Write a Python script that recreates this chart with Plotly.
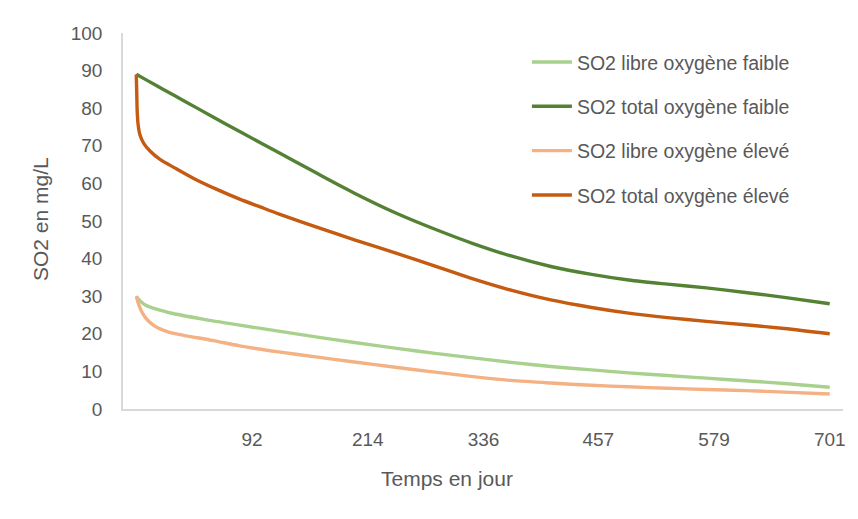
import plotly.graph_objects as go

# ---- data ----
days_total_faible = [-30, -20, 0, 20, 50, 79, 120, 161, 200, 243, 285, 325, 365, 407, 450, 489, 530, 571, 612, 653, 701]
total_faible = [89, 87.6, 84.8, 82.0, 77.8, 73.8, 68.2, 62.6, 57.4, 52.2, 47.8, 44.0, 40.7, 37.9, 35.8, 34.3, 33.2, 32.2, 31.0, 29.7, 28.0]

days_total_eleve = [-30, -29.5, -29, -28, -26, -22, -15, -5, 10, 30, 55, 79, 100, 120, 161, 200, 243, 285, 325, 365, 407, 450, 489, 530, 571, 612, 653, 701]
total_eleve = [89, 84, 79, 75.5, 72.8, 70.6, 68.5, 66.4, 64.2, 61.4, 58.4, 55.8, 53.8, 51.9, 48.3, 45.0, 41.5, 38.0, 34.6, 31.6, 29.0, 27.0, 25.5, 24.3, 23.3, 22.4, 21.4, 20.0]

days_libre_faible = [-30, -25, -20, -13, -5, 5, 40, 79, 120, 161, 200, 243, 285, 325, 365, 407, 450, 489, 530, 571, 612, 653, 701]
libre_faible = [30, 28.5, 27.6, 26.9, 26.3, 25.6, 23.9, 22.3, 20.7, 19.1, 17.7, 16.2, 14.8, 13.6, 12.4, 11.3, 10.4, 9.6, 8.9, 8.2, 7.5, 6.8, 5.8]

days_libre_eleve = [-30, -27, -23, -18, -12, -5, 5, 20, 51, 79, 120, 161, 200, 243, 285, 325, 365, 407, 450, 489, 530, 571, 612, 653, 701]
libre_eleve = [30, 27.5, 25.3, 23.6, 22.3, 21.3, 20.4, 19.6, 18.2, 16.8, 15.2, 13.8, 12.5, 11.1, 9.8, 8.6, 7.6, 6.9, 6.3, 5.9, 5.5, 5.2, 4.9, 4.5, 4.0]

x_ticks = [92, 214, 336, 457, 579, 701]
y_ticks = [0, 10, 20, 30, 40, 50, 60, 70, 80, 90, 100]

names = ["SO2 libre oxygène faible", "SO2 total oxygène faible",
         "SO2 libre oxygène élevé", "SO2 total oxygène élevé"]
colors = ["#A9D18E", "#548235", "#F4B183", "#C55A11"]

FONT = "Liberation Sans"
TXT = "#595959"
FS_TICK = 19
FS_LEG = 19.5
FS_TITLE = 21

series = [(days_libre_faible, libre_faible), (days_total_faible, total_faible),
          (days_libre_eleve, libre_eleve), (days_total_eleve, total_eleve)]

fig = go.Figure()
for i, ((xs, ys), name, col) in enumerate(zip(series, names, colors)):
    fig.add_trace(go.Scatter(
        x=xs, y=ys, name=name, mode="lines",
        line=dict(color=col, width=3.4, shape="spline", smoothing=0.8),
        legendgroup=f"g{i}",
    ))

# the page body has an 8px default margin, so the figure is offset by 8px
fig.update_layout(
    width=858, height=519,
    margin=dict(l=115, r=23, t=25, b=118, autoexpand=False),
    paper_bgcolor="white", plot_bgcolor="white",
    font=dict(family=FONT, size=FS_TICK, color=TXT),
    legend=dict(
        x=0.561, xanchor="left", y=0.974, yanchor="top",
        traceorder="grouped", tracegroupgap=16,
        font=dict(family=FONT, size=FS_LEG, color=TXT),
        bgcolor="rgba(0,0,0,0)", itemwidth=40,
    ),
    showlegend=True,
)
fig.update_xaxes(
    range=[-44, 715], tickvals=x_ticks, ticktext=[str(v) for v in x_ticks],
    showgrid=False, zeroline=False, showline=True, linecolor="#D9D9D9", linewidth=1.5,
    ticks="", ticklabelstandoff=12, automargin=False,
    tickfont=dict(size=FS_TICK, color=TXT, family=FONT),
)
fig.update_yaxes(
    range=[0, 100], tickvals=y_ticks,
    showgrid=False, zeroline=False, showline=True, linecolor="#D9D9D9", linewidth=1.5,
    ticks="", ticklabelstandoff=15, automargin=False,
    tickfont=dict(size=FS_TICK, color=TXT, family=FONT),
)
fig.add_annotation(
    text="Temps en jour", xref="paper", yref="paper",
    x=(447 - 123) / 720, y=-(478 - 409) / 376, xanchor="center", yanchor="middle",
    showarrow=False, font=dict(size=FS_TITLE, color=TXT, family=FONT),
)
fig.add_annotation(
    text="SO2 en mg/L", xref="paper", yref="paper", textangle=-90,
    x=(40 - 123) / 720, y=(409 - 219) / 376, xanchor="center", yanchor="middle",
    showarrow=False, font=dict(size=FS_TITLE, color=TXT, family=FONT),
)

fig.write_html("out.html")
